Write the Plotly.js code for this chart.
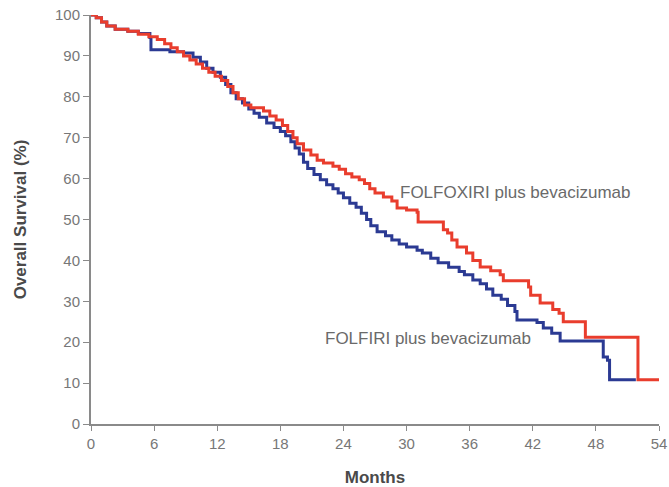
<!DOCTYPE html>
<html>
<head>
<meta charset="utf-8">
<script src="https://cdn.plot.ly/plotly-3.0.1.min.js"></script>
<style>html,body{margin:0;padding:0;background:#fff;}#chart{width:669px;height:487px;}</style>
</head>
<body>
<div id="chart"></div>
<script>
// FOLFOXIRI plus bevacizumab (red)
const redMonths = [0,0.5,1.0,1.5,2.3,3.5,4.5,5.5,6.3,7.0,7.6,8.2,8.8,9.4,10.0,10.6,11.2,11.8,12.4,13.0,13.5,14.0,14.6,15.2,16.4,17.0,17.6,18.2,18.7,19.2,19.6,20.2,20.9,21.5,22.1,23.0,23.6,24.2,24.8,25.5,26.0,26.5,27.0,27.8,28.6,29.1,30.0,31.0,31.1,33.5,33.9,34.3,34.8,35.7,36.3,37.0,38.0,38.9,39.2,41.6,41.8,42.7,43.9,44.5,44.9,47.0,52.0,54.6];
const redSurv   = [100,99.3,98.3,97.3,96.5,96,95.3,94.7,94,93,92,91,90,89,88,87,86,85,84,82.5,81,79.5,78,77.3,76.5,75.3,74.3,73,71.5,70,68.5,67,65.8,64.5,63.8,63,62.3,61.2,60.4,59.7,58.8,57.5,56.5,55.5,54.5,52.8,52.3,51.8,49.4,47.5,46.7,45,43.3,41.8,40,38.4,37.5,36.5,35,33.5,31.5,29.6,28,27.1,25,21.2,10.8,10.8];

// FOLFIRI plus bevacizumab (blue)
const blueMonths = [0,0.5,1.0,1.5,2.3,3.5,4.5,5.6,5.7,7.5,8.8,9.7,10.4,11.0,11.6,12.3,12.8,13.3,13.8,14.4,15.0,15.5,16.0,16.7,17.4,18.0,18.5,19.0,19.4,19.8,20.2,20.6,21.2,21.8,22.4,23.0,23.5,24.0,24.6,25.2,25.7,26.2,26.6,27.2,28.0,28.6,29.3,30.0,31.0,31.5,32.3,33.0,34.0,35.0,35.5,36.3,37.0,37.6,38.2,39.0,39.6,40.3,40.5,42.4,43.0,43.8,44.6,48.6,48.7,49.1,49.3,51.8];
const blueSurv   = [100,99.3,98.3,97.3,96.5,96,95.5,94.5,91.5,91,90.7,89.7,88.5,87,86,84.8,83,81,79.5,78.5,77,76,75,73.6,72.5,71.5,70.5,69,67.5,66,64,62.5,61,59.7,58.5,57.5,56.5,55.3,54,53,51.5,50,48.5,47,46,45,44,43.3,42.5,41.8,40.5,39.4,38.3,37.3,36.5,35.2,34.3,33,31.5,30.5,29,27.5,25.4,24.8,23.5,22.2,20.3,20.3,16.4,15.6,10.8,10.8];

const xTicks = [0,6,12,18,24,30,36,42,48,54];
const yTicks = [0,10,20,30,40,50,60,70,80,90,100];
const redLabel = "FOLFOXIRI plus bevacizumab";
const blueLabel = "FOLFIRI plus bevacizumab";

const FONT = "Liberation Sans, Arial, sans-serif";

const traces = [
  {x: blueMonths, y: blueSurv, mode: "lines", line: {shape: "hv", color: "#2b3a93", width: 3}, name: blueLabel, hoverinfo: "skip"},
  {x: redMonths, y: redSurv, mode: "lines", line: {shape: "hv", color: "#e93d2d", width: 3}, name: redLabel, hoverinfo: "skip"}
];

const layout = {
  width: 669, height: 487,
  margin: {l: 91, r: 10, t: 15, b: 63},
  paper_bgcolor: "#fff", plot_bgcolor: "#fff",
  showlegend: false,
  font: {family: FONT, size: 14, color: "#6a6a6a"},
  xaxis: {
    range: [0, 54], tickvals: xTicks, ticktext: xTicks.map(String),
    showgrid: false, zeroline: false, showline: true, linecolor: "#8a8a8a", linewidth: 2,
    ticks: "outside", ticklen: 5, tickcolor: "#8a8a8a", tickwidth: 1,
    tickfont: {family: FONT, size: 15, color: "#777"},
    title: {text: "<b>Months</b>", font: {family: FONT, size: 17, color: "#4a4a4a"}, standoff: 20}
  },
  yaxis: {
    range: [0, 100], tickvals: yTicks, ticktext: yTicks.map(String),
    showgrid: false, zeroline: false, showline: true, linecolor: "#8a8a8a", linewidth: 2,
    ticks: "outside", ticklen: 6, tickcolor: "#8a8a8a", tickwidth: 1,
    tickfont: {family: FONT, size: 15, color: "#777"},
    title: {text: "<b>Overall Survival (%)</b>", font: {family: FONT, size: 17, color: "#4a4a4a"}, standoff: 24}
  },
  annotations: [
    {x: 29.2, y: 56.5, xref: "x", yref: "y", text: redLabel, showarrow: false, xanchor: "left", yanchor: "middle",
     font: {family: FONT, size: 17, color: "#6a6a6a"}},
    {x: 22.1, y: 20.8, xref: "x", yref: "y", text: blueLabel, showarrow: false, xanchor: "left", yanchor: "middle",
     font: {family: FONT, size: 17, color: "#6a6a6a"}}
  ]
};

Plotly.newPlot("chart", traces, layout, {displayModeBar: false, staticPlot: true});
</script>
</body>
</html>
